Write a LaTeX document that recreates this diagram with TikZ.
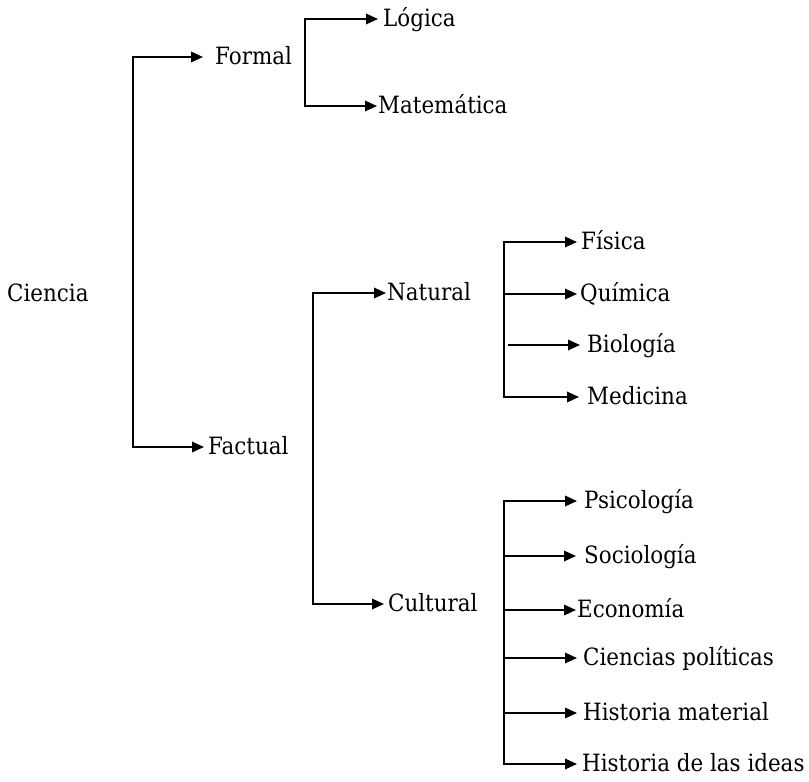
\documentclass[tikz,border=0pt]{standalone}
\usepackage{fontspec}
\setmainfont{DejaVu Serif}[FakeStretch=0.9]
\usetikzlibrary{arrows.meta}
\begin{document}
\begin{tikzpicture}[x=1pt,y=-1pt,
  label/.style={font=\fontsize{23.8}{28}\selectfont, anchor=west,
    inner ysep=0pt, inner xsep=4pt, text height=18pt, text depth=4pt},
  tipstyle/.style={line width=1.8pt},
  link/.style={tipstyle, -{Triangle[length=12pt,width=10.5pt]}},
  twin/.style={tipstyle, {Triangle[length=12pt,width=10.5pt]}-{Triangle[length=12pt,width=10.5pt]}},
]
\useasboundingbox (0,0) rectangle (809,782);

% root
\node[label, inner xsep=0pt] (ciencia) at (7,294) {Ciencia};

% first level
\node[label, inner xsep=12pt] (formal) at (203,57) {Formal};
\node[label] (factual) at (204,447) {Factual};

% formal sciences
\node[label, inner xsep=5pt] (logica) at (378,19) {Lógica};
\node[label, inner xsep=1pt] (matem) at (377,106) {Matemática};

% factual sciences
\node[label, inner xsep=1pt] (natural) at (386,293) {Natural};
\node[label] (cultural) at (384,604) {Cultural};

% natural sciences
\node[label] (fisica) at (577,242) {Física};
\node[label, inner xsep=3pt] (quimica) at (577,294) {Química};
\node[label, inner xsep=7pt] (biologia) at (580,345) {Biología};
\node[label, inner xsep=8pt] (medicina) at (579,397) {Medicina};

% cultural sciences
\node[label, inner xsep=7pt] (psico) at (577,501) {Psicología};
\node[label, inner xsep=8pt] (socio) at (576,556) {Sociología};
\node[label, inner xsep=1pt] (econ) at (576,610) {Economía};
\node[label, inner xsep=6pt] (cienpol) at (577,658) {Ciencias políticas};
\node[label, inner xsep=6pt] (histmat) at (577,713) {Historia material};
\node[label, inner xsep=5pt] (histideas) at (577,764) {Historia de las ideas};

% bracket spines
\coordinate (cs) at (133,250);
\coordinate (fs) at (305,60);
\coordinate (ts) at (313,450);
\coordinate (ns) at (504,320);
\coordinate (nb) at (508,345);
\coordinate (us) at (504,630);

\draw[twin] (formal.west) -| (cs) |- (factual.west);
\draw[twin] (logica.west) -| (fs) |- (matem.west);
\draw[twin] (natural.west) -| (ts) |- (cultural.west);

\draw[twin] (fisica.west) -| (ns) |- (medicina.west);
\draw[link] (quimica.west -| ns) -- (quimica.west);
\draw[link] (nb) -- (biologia.west);

\draw[twin] (psico.west) -| (us) |- (histideas.west);
\draw[link] (socio.west -| us) -- (socio.west);
\draw[link] (econ.west -| us) -- (econ.west);
\draw[link] (cienpol.west -| us) -- (cienpol.west);
\draw[link] (histmat.west -| us) -- (histmat.west);
\end{tikzpicture}
\end{document}
